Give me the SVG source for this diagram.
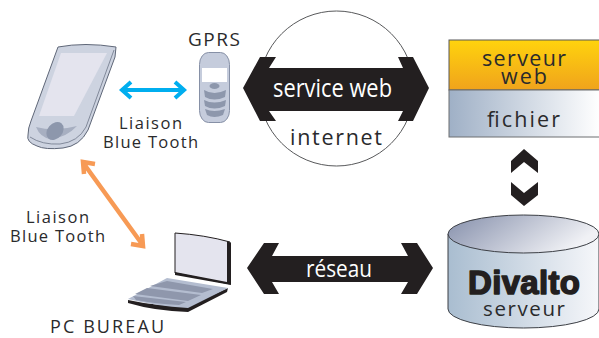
<svg xmlns="http://www.w3.org/2000/svg" width="599" height="338" viewBox="0 0 599 338">
<style>
text{font-family:"Open Sans","Noto Sans","Liberation Sans",sans-serif;fill:#2a2a2c}
.w{fill:#fff}
.t{font-size:16.500px}
.m{font-size:21.500px}
.edge{stroke-width:0;fill:#231f20}
</style>
<defs>
<linearGradient id="gy" x1="0" y1="0" x2="0" y2="1"><stop offset="0" stop-color="#ffd30d"/><stop offset="1" stop-color="#f0a31c"/></linearGradient>
<linearGradient id="gb" x1="0" y1="0" x2="1" y2="0"><stop offset="0" stop-color="#9fb0c6"/><stop offset="1" stop-color="#fff"/></linearGradient>
<linearGradient id="gt" x1="0" y1="0" x2="1" y2="0.35"><stop offset="0" stop-color="#858fab"/><stop offset="1" stop-color="#f0f1f5"/></linearGradient>
<linearGradient id="gc" x1="0" y1="0" x2="1" y2="0"><stop offset="0" stop-color="#a9bdd0"/><stop offset="1" stop-color="#f6f7fa"/></linearGradient>
</defs>
<g id="connectors">
<path d="M123 90H183M131 82L122 90L131 98M175 82L184 90L175 98" fill="none" stroke="#00aeef" stroke-width="4"/>
<path d="M84 164L142 244M84 174L83 162L95 164M142 234L143 246L131 244" fill="none" stroke="#f79a55" stroke-width="4.500"/>
<path id="chev-up" class="edge" d="M524 149L538 161V173L524 162L511 173V161Z"/>
<path id="chev-down" class="edge" d="M511 182L524 193L538 182V195L524 206L511 195Z"/>
</g>
<g id="pda">
<path d="M58 47Q85 42 116 47L115 57L88 130Q80 146 63 148Q45 150 37 146Q26 142 28 135Q28 128 31 121Z" fill="#cdd3e0" stroke="#5f6778"/>
<path d="M114 50L86 127Q78 142 60 144Q42 145 30 137" fill="none" stroke="#6d7688" stroke-width="0.800"/>
<path d="M61 53H107L74 116H39Z" fill="#e4e4ee"/>
<path d="M36 127Q55 132 77 126Q66 138 50 139Q40 137 36 127Z" fill="#a7afc1"/>
<ellipse cx="55" cy="131" rx="10" ry="7.500" transform="rotate(-50 55 131)" fill="#8d97ac"/>
</g>
<g id="phone">
<rect x="199.500" y="52.500" width="30" height="70" rx="9" ry="12" fill="#c5ccdc" stroke="#8690a6"/>
<rect x="202" y="68" width="25" height="14" fill="#fff"/>
<ellipse cx="214.500" cy="86" rx="5" ry="3" fill="#8d97ac"/>
<path d="M204 90Q214 96 226 90L225 97Q214 102 205 97ZM204 100Q214 105 226 100L225 106Q214 111 205 106ZM205 109Q214 113 225 109L223 115Q214 119 207 115Z" fill="#8d97ac"/>
</g>
<g id="gprs-label"><text x="188" y="46" textLength="52" style="font-size:19px">GPRS</text></g>
<g id="bt-label-1">
<text class="t" x="119" y="129" textLength="63">Liaison</text>
<text class="t" x="103" y="148" textLength="95">Blue Tooth</text>
</g>
<g id="bt-label-2">
<text class="t" x="26" y="223" textLength="63">Liaison</text>
<text class="t" x="10" y="242" textLength="95">Blue Tooth</text>
</g>
<g id="laptop">
<path d="M175 233Q205 235 230 242V284L175 273Z" fill="#e4e4ee" stroke="#231f20"/>
<path d="M227 241L231 243V285L175 275V272L227 282Z" fill="#231f20"/>
<path d="M128 300L128 303Q155 311 188 312L227 292L228 288L188 306Q155 306 128 300Z" fill="#231f20"/>
<path d="M167 278L228 288L188 308Q155 306 128 299Z" fill="#b4bdd0"/>
<path d="M167 281L213 289L202 293L150 286ZM147 288L201 295L188 301L135 294ZM133 296L186 302L179 305Q155 304 136 300Z" fill="#8f97ac"/>
</g>
<g id="pc-label"><text x="50" y="333" textLength="114" style="font-size:18px">PC BUREAU</text></g>
<g id="internet">
<circle cx="336.500" cy="88.500" r="77.500" fill="#fff" stroke="#58595b"/>
<text class="m" x="290" y="145" textLength="92">internet</text>
</g>
<g id="service-web">
<path class="edge" d="M243 88L260 57H276L269 68H403L398 57H413L429 88L413 121H398L403 111H269L276 121H260Z"/>
<text class="w" x="273" y="97" textLength="119" lengthAdjust="spacingAndGlyphs" style="font-size:26px">service web</text>
</g>
<g id="reseau">
<path class="edge" d="M247 268L264 243H279L272 256H408L401 243H417L433 268L417 294H401L408 282H272L279 294H264Z"/>
<text class="w" x="306" y="277" textLength="66" lengthAdjust="spacingAndGlyphs" style="font-size:24px">réseau</text>
</g>
<g id="serveur-web">
<rect x="449" y="40" width="151" height="50" fill="url(#gy)" stroke="#58595b"/>
<text class="m" x="482" y="66" textLength="84">serveur</text>
<text class="m" x="501" y="84" textLength="46">web</text>
</g>
<g id="fichier">
<rect x="449" y="90" width="151" height="47" fill="url(#gb)" stroke="#6d6e71"/>
<text class="m" x="487" y="127" textLength="73">fichier</text>
</g>
<g id="divalto">
<path d="M448 234V309A75.500 19 0 0 0 599 309V234Z" fill="url(#gc)" stroke="#3c3f45"/>
<ellipse cx="523.500" cy="234" rx="75.500" ry="19" fill="url(#gt)" stroke="#3c3f45"/>
<text x="468" y="294" textLength="112" style="font-family:'Liberation Sans',Arial,sans-serif;font-size:33px;font-weight:700;fill:#231f20;stroke:#231f20;stroke-width:1.500;stroke-linejoin:round">Divalto</text>
<text x="483" y="316" textLength="82" style="font-size:20.500px">serveur</text>
</g>
</svg>
